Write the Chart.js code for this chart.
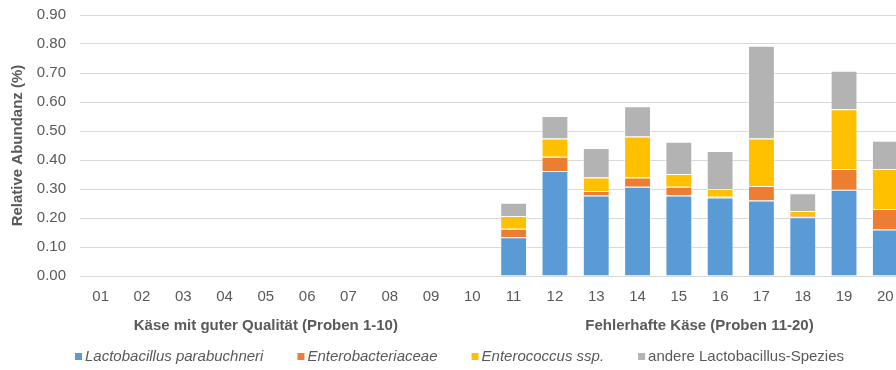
<!DOCTYPE html>
<html>
<head>
<meta charset="utf-8">
<script src="https://cdn.jsdelivr.net/npm/chart.js@4/dist/chart.umd.min.js"></script>
<style>
  html, body { margin: 0; padding: 0; background: #fff; overflow: hidden; }
  #wrap { position: relative; width: 910px; height: 370px; overflow: hidden; }
  #abundanz { position: absolute; left: 0; top: -8px; }
</style>
</head>
<body>
<div id="wrap"><canvas id="abundanz" width="910" height="378"></canvas></div>
<script>
// Proben 01-20
const proben = ['01','02','03','04','05','06','07','08','09','10',
                '11','12','13','14','15','16','17','18','19','20'];

const lactoParabuchneri = [0, 0, 0.002, 0, 0, 0, 0, 0, 0, 0,
                           0.134, 0.362, 0.278, 0.308, 0.278, 0.271, 0.260, 0.203, 0.297, 0.160];
const enterobacteriaceae = [0, 0, 0, 0, 0, 0, 0, 0, 0, 0,
                            0.029, 0.049, 0.015, 0.032, 0.030, 0.002, 0.050, 0.004, 0.072, 0.071];
const enterococcus = [0, 0, 0, 0.002, 0, 0, 0, 0, 0, 0,
                      0.044, 0.063, 0.047, 0.141, 0.044, 0.027, 0.164, 0.017, 0.206, 0.138];
const andereLacto = [0, 0, 0, 0, 0, 0, 0, 0, 0, 0,
                     0.046, 0.078, 0.101, 0.104, 0.111, 0.131, 0.320, 0.061, 0.133, 0.097];

const gruppen = ['Käse mit guter Qualität (Proben 1-10)', 'Fehlerhafte Käse (Proben 11-20)'];

const legende = [
  { text: 'Lactobacillus parabuchneri', italic: true },
  { text: 'Enterobacteriaceae', italic: true },
  { text: 'Enterococcus ssp.', italic: true },
  { text: 'andere Lactobacillus-Spezies', italic: false }
];

const farben = ['#5B9BD5', '#ED7D31', '#FFC000', '#B3B3B3'];
const textFarbe = '#595959';
const schrift = "'Liberation Sans', Arial, sans-serif";

// group captions under the category labels
const gruppenPlugin = {
  id: 'gruppen',
  afterDraw(chart) {
    const ctx = chart.ctx;
    const x = chart.scales.x;
    const y = chart.chartArea.bottom + 50;
    ctx.save();
    ctx.fillStyle = textFarbe;
    ctx.font = 'bold 15px ' + schrift;
    ctx.textAlign = 'center';
    ctx.textBaseline = 'middle';
    ctx.fillText(gruppen[0], x.getPixelForValue(4), y);
    ctx.fillText(gruppen[1], (x.getPixelForValue(14) + x.getPixelForValue(15)) / 2, y);
    ctx.restore();
  }
};

// legend with italic taxon names
const legendePlugin = {
  id: 'legende',
  afterDraw(chart) {
    const ctx = chart.ctx;
    let px = 75;
    const py = chart.chartArea.bottom + 81;
    ctx.save();
    ctx.textBaseline = 'middle';
    legende.forEach((item, i) => {
      ctx.fillStyle = farben[i];
      ctx.fillRect(px, py - 4, 7, 7);
      ctx.font = (item.italic ? 'italic ' : '') + '15px ' + schrift;
      ctx.fillStyle = textFarbe;
      ctx.fillText(item.text, px + 10, py);
      px += 10 + ctx.measureText(item.text).width + 34;
    });
    ctx.restore();
  }
};

const reihen = [lactoParabuchneri, enterobacteriaceae, enterococcus, andereLacto];

new Chart(document.getElementById('abundanz'), {
  type: 'bar',
  data: {
    labels: proben,
    datasets: reihen.map((werte, i) => ({
      label: legende[i].text,
      data: werte,
      backgroundColor: farben[i],
      borderColor: 'rgba(255,255,255,0.55)',
      borderWidth: 1,
      barPercentage: 0.65,
      categoryPercentage: 1
    }))
  },
  options: {
    responsive: false,
    animation: false,
    devicePixelRatio: 1,
    layout: { padding: { top: 7, left: 0, right: 4, bottom: 0 } },
    plugins: {
      legend: { display: false },
      tooltip: { enabled: false }
    },
    scales: {
      x: {
        stacked: true,
        grid: { display: false },
        border: { color: '#D9D9D9', width: 1 },
        ticks: {
          color: textFarbe,
          font: { family: schrift, size: 15 },
          padding: 4,
          maxRotation: 0,
          autoSkip: false
        },
        afterFit(scale) { scale.height = 94; }
      },
      y: {
        stacked: true,
        min: 0,
        max: 0.9,
        ticks: {
          stepSize: 0.1,
          color: textFarbe,
          font: { family: schrift, size: 15 },
          padding: 14,
          callback: v => v.toFixed(2)
        },
        grid: { color: '#D9D9D9', lineWidth: 1, drawTicks: false },
        border: { display: false },
        title: {
          display: true,
          text: 'Relative Abundanz (%)',
          color: textFarbe,
          font: { family: schrift, size: 15, weight: 'bold' },
          padding: { top: 9, bottom: 0 }
        },
        afterFit(scale) { scale.width = 80; }
      }
    }
  },
  plugins: [gruppenPlugin, legendePlugin]
});
</script>
</body>
</html>
